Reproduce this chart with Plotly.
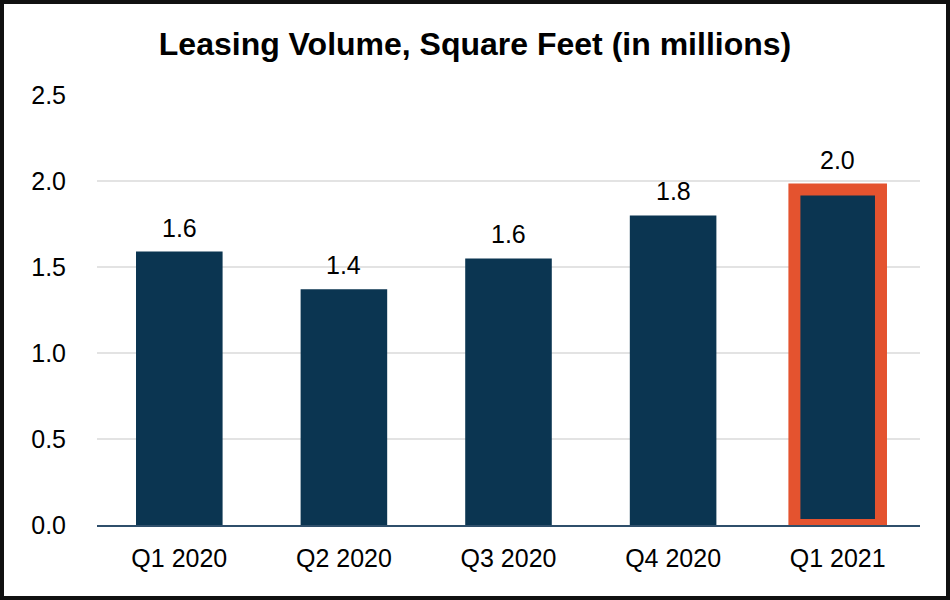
import plotly.graph_objects as go

categories = ["Q1 2020", "Q2 2020", "Q3 2020", "Q4 2020", "Q1 2021"]
values = [1.59, 1.37, 1.55, 1.80, 1.95]
labels = ["1.6", "1.4", "1.6", "1.8", "2.0"]
y_ticks = [0.0, 0.5, 1.0, 1.5, 2.0, 2.5]
y_tick_text = ["0.0", "0.5", "1.0", "1.5", "2.0", "2.5"]
highlight = "Q1 2021"

W, H = 950, 600
ML, MR, MT, MB = 97, 30, 95, 75
PW, PH = W - ML - MR, H - MT - MB

NAVY = "#0b3551"
ORANGE = "#e4532f"
FONT = "Liberation Sans, Arial, sans-serif"
HL_W = 12

line_w = [HL_W if c == highlight else 0 for c in categories]
line_c = [ORANGE if c == highlight else NAVY for c in categories]

fig = go.Figure()
fig.add_trace(go.Bar(
    x=categories, y=values,
    marker=dict(color=NAVY, line=dict(color=line_c, width=line_w)),
    hoverinfo="skip",
))

for c, v, t, lw in zip(categories, values, labels, line_w):
    fig.add_annotation(x=c, y=v, text=t, showarrow=False,
                       yanchor="bottom", yshift=8 + lw / 2,
                       font=dict(family=FONT, size=25, color="#000000"))

def px_x(p):
    return (p - ML) / PW

def px_y(p):
    return (H - MB - p) / PH

fig.add_shape(type="rect", xref="paper", yref="paper",
              x0=px_x(2), x1=px_x(W - 2), y0=px_y(H - 2), y1=px_y(2),
              line=dict(color="#111111", width=4), fillcolor="rgba(0,0,0,0)",
              layer="above")

fig.update_layout(
    width=W, height=H,
    margin=dict(l=ML, r=MR, t=MT, b=MB),
    paper_bgcolor="white", plot_bgcolor="white",
    bargap=0.474,
    showlegend=False,
    font=dict(family=FONT, color="#000000"),
    title=dict(text="<b>Leasing Volume, Square Feet (in millions)</b>",
               x=0.5, xref="container", xanchor="center",
               y=1 - 44 / H, yref="container", yanchor="middle",
               font=dict(family=FONT, size=32, color="#000000")),
    xaxis=dict(showgrid=False, showline=True, linecolor="#2f4f6b", linewidth=2,
               ticks="", tickfont=dict(family=FONT, size=25, color="#000000"),
               ticklabelstandoff=10),
    yaxis=dict(range=[0, 2.5], tickvals=y_ticks, ticktext=y_tick_text,
               showgrid=True, gridcolor="#e3e3e3", gridwidth=2,
               zeroline=False, showline=False, ticks="",
               tickfont=dict(family=FONT, size=25, color="#000000"),
               ticklabelstandoff=30),
)

fig.write_html("out.html", config={"displayModeBar": False},
               post_script="document.body.style.margin='0';document.body.style.overflow='hidden';")
